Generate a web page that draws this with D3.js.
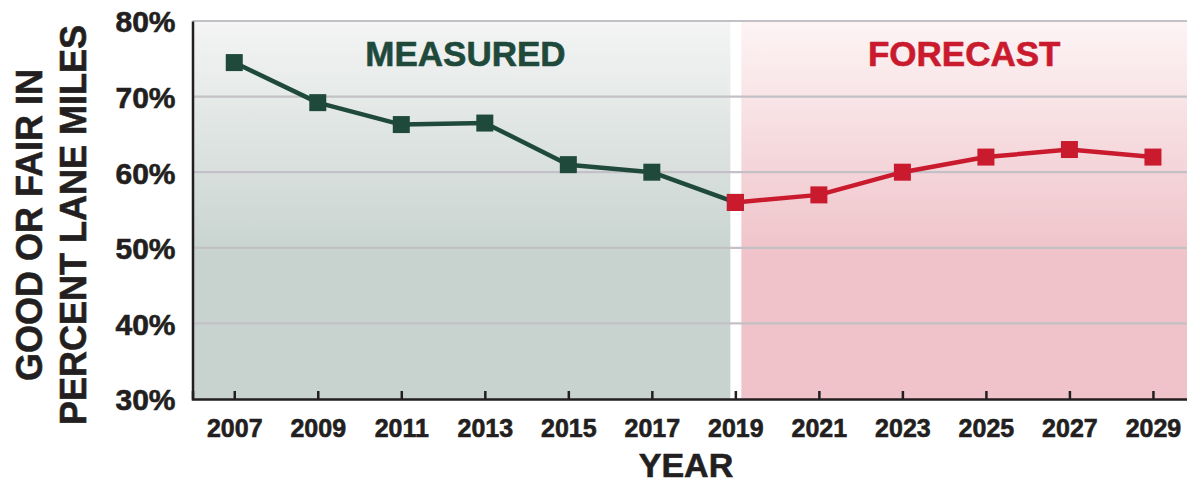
<!DOCTYPE html>
<html>
<head>
<meta charset="utf-8">
<script src="https://cdn.jsdelivr.net/npm/d3@7"></script>
<style>
  html, body { margin: 0; padding: 0; background: #ffffff; }
  svg { display: block; font-family: "Liberation Sans", Arial, Helvetica, sans-serif; font-weight: bold; }
</style>
</head>
<body>
<svg id="chart" width="1187" height="486"></svg>
<script>
// Pavement condition: share of lane miles rated good or fair
const measuredYears = [2007, 2009, 2011, 2013, 2015, 2017, 2019];
const measuredValues = [74.5, 69.2, 66.3, 66.5, 61, 60, 56];
const forecastYears = [2019, 2021, 2023, 2025, 2027, 2029];
const forecastValues = [56, 57, 60, 62, 63, 62];
const xTickYears = [2007, 2009, 2011, 2013, 2015, 2017, 2019, 2021, 2023, 2025, 2027, 2029];
const yTickValues = [30, 40, 50, 60, 70, 80];
const splitYear = 2019;

const GREEN = "#1f4a3b";
const RED = "#c91a2e";
const INK = "#231f20";
const GRID = "#c3c1c5";

const svg = d3.select("#chart");
const W = 1187, H = 486;

const x = d3.scaleLinear().domain([2006, 2030]).range([192.5, 1194.7]);
const y = d3.scaleLinear().domain([30, 80]).range([399, 21]);

const measured = measuredYears.map((yr, i) => ({ year: yr, value: measuredValues[i] }));
const forecast = forecastYears.map((yr, i) => ({ year: yr, value: forecastValues[i] }));

// Background gradients for the two periods
const defs = svg.append("defs");
function vGrad(id, top, bottom) {
  const g = defs.append("linearGradient").attr("id", id)
    .attr("x1", 0).attr("y1", 0).attr("x2", 0).attr("y2", 1);
  g.append("stop").attr("offset", "0%").attr("stop-color", top);
  g.append("stop").attr("offset", "62%").attr("stop-color", bottom);
  g.append("stop").attr("offset", "100%").attr("stop-color", bottom);
}
vGrad("gMeasured", "#f4f5f4", "#c8d3cf");
vGrad("gForecast", "#fdf4f5", "#efc3c9");

const gapLeft = x(splitYear) - 5;
const gapRight = x(splitYear) + 6;

svg.append("rect")
  .attr("x", x(2006)).attr("y", y(80))
  .attr("width", gapLeft - x(2006)).attr("height", y(30) - y(80))
  .attr("fill", "url(#gMeasured)");
svg.append("rect")
  .attr("x", gapRight).attr("y", y(80))
  .attr("width", W - gapRight).attr("height", y(30) - y(80))
  .attr("fill", "url(#gForecast)");

// Horizontal gridlines
svg.append("g")
  .selectAll("line")
  .data(yTickValues.filter(v => v > 30))
  .join("line")
  .attr("x1", x(2006)).attr("x2", W)
  .attr("y1", d => y(d)).attr("y2", d => y(d))
  .attr("stroke", GRID).attr("stroke-width", 2.2);

// Slightly heavier lettering
function heavy(sel, color) {
  sel.attr("fill", color).attr("stroke", color).attr("stroke-width", 0.6).attr("paint-order", "stroke");
}

// Y axis
const yAxis = svg.append("g")
  .attr("transform", `translate(${x(2006)},0)`)
  .call(d3.axisLeft(y).tickValues(yTickValues).tickSize(0).tickPadding(17).tickFormat(d => d + "%"));
yAxis.select(".domain").attr("stroke", INK).attr("stroke-width", 2.5);
yAxis.selectAll("text")
  .attr("font-size", 30).attr("font-family", null).attr("dy", "0.36em")
  .call(heavy, INK);

// X axis with inward ticks
const xAxis = svg.append("g")
  .attr("transform", `translate(0,${y(30)})`)
  .call(d3.axisBottom(x).tickValues(xTickYears).tickSize(-8).tickPadding(20).tickFormat(d3.format("d")));
xAxis.select(".domain").attr("stroke", INK).attr("stroke-width", 2.5);
xAxis.selectAll(".tick line").attr("stroke", INK).attr("stroke-width", 2.5);
xAxis.selectAll("text")
  .attr("font-size", 25).attr("font-family", null)
  .call(heavy, INK);

// Period labels
svg.append("text")
  .attr("x", (x(2006) + gapLeft) / 2 + 4).attr("y", 66)
  .attr("text-anchor", "middle").attr("font-size", 35)
  .call(heavy, GREEN)
  .text("MEASURED");
svg.append("text")
  .attr("x", (gapRight + W) / 2).attr("y", 66)
  .attr("text-anchor", "middle").attr("font-size", 35)
  .call(heavy, RED)
  .text("FORECAST");

// Lines and square markers
const line = d3.line().x(d => x(d.year)).y(d => y(d.value));
function series(data, color) {
  svg.append("path").datum(data)
    .attr("d", line).attr("fill", "none")
    .attr("stroke", color).attr("stroke-width", 4.5).attr("stroke-linejoin", "round");
  const s = 17;
  svg.append("g").selectAll("rect").data(data).join("rect")
    .attr("x", d => x(d.year) - s / 2).attr("y", d => y(d.value) - s / 2)
    .attr("width", s).attr("height", s).attr("fill", color);
}
series(measured, GREEN);
series(forecast, RED);

// Axis titles
svg.append("text")
  .attr("x", 686).attr("y", 477)
  .attr("text-anchor", "middle").attr("font-size", 34)
  .call(heavy, INK)
  .text("YEAR");

const yTitle = svg.append("text")
  .attr("transform", "translate(0,225) rotate(-90)")
  .attr("text-anchor", "middle").attr("font-size", 36)
  .call(heavy, INK);
yTitle.append("tspan").attr("x", 0).attr("y", 42).text("GOOD OR FAIR IN");
yTitle.append("tspan").attr("x", 0).attr("y", 86).text("PERCENT LANE MILES");
</script>
</body>
</html>
